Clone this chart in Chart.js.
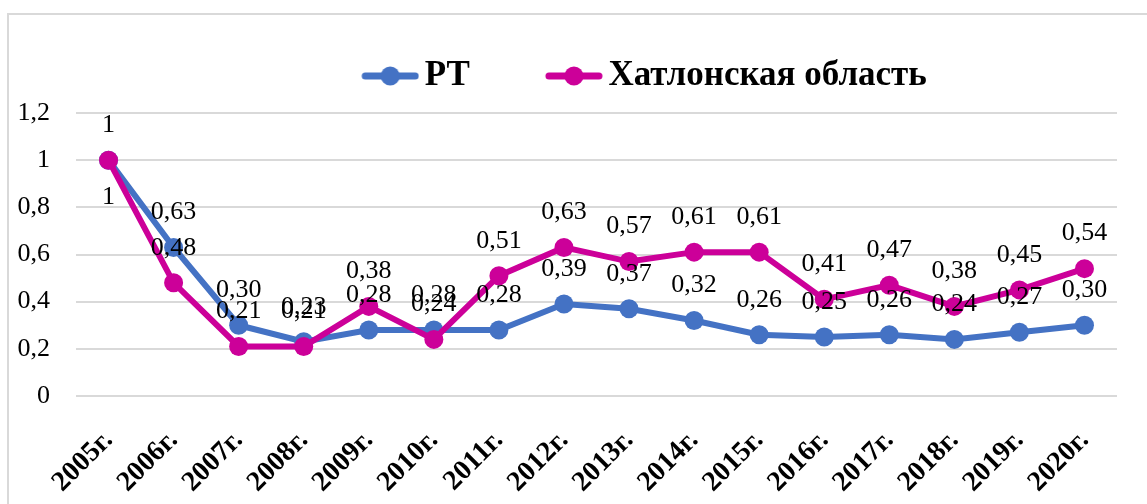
<!DOCTYPE html>
<html>
<head>
<meta charset="utf-8">
<script src="https://cdn.jsdelivr.net/npm/chart.js"></script>
<style>
  html, body { margin: 0; padding: 0; background: #fff; }
  #wrap { position: relative; width: 1147px; height: 504px; overflow: hidden; }
  #frame { position: absolute; left: 7px; top: 13px; width: 1200px; height: 600px; border: 2px solid #d9d9d9; }
  #chart { position: absolute; left: 0; top: 0; }
</style>
</head>
<body>
<div id="wrap">
  <div id="frame"></div>
  <canvas id="chart" width="1147" height="504"></canvas>
</div>
<script>
// Data
const years = ['2005г.', '2006г.', '2007г.', '2008г.', '2009г.', '2010г.', '2011г.', '2012г.',
               '2013г.', '2014г.', '2015г.', '2016г.', '2017г.', '2018г.', '2019г.', '2020г.'];
const rtValues = [1, 0.63, 0.30, 0.23, 0.28, 0.28, 0.28, 0.39, 0.37, 0.32, 0.26, 0.25, 0.26, 0.24, 0.27, 0.30];
const khatlonValues = [1, 0.48, 0.21, 0.21, 0.38, 0.24, 0.51, 0.63, 0.57, 0.61, 0.61, 0.41, 0.47, 0.38, 0.45, 0.54];
const yTickLabels = ['0', '0,2', '0,4', '0,6', '0,8', '1', '1,2'];

const SERIF = '"Liberation Serif", "Times New Roman", serif';
const BLUE = '#4472C4';
const MAGENTA = '#CC0099';

// Excel-style number: comma decimal, "1" stays "1"
function formatValue(v) {
    return v === 1 ? '1' : v.toFixed(2).replace('.', ',');
}

// Legend marker: short line with a dot in the middle
function legendMarker(color) {
    const c = document.createElement('canvas');
    c.width = 69;
    c.height = 24;
    const g = c.getContext('2d');
    g.strokeStyle = color;
    g.lineWidth = 7;
    g.lineCap = 'round';
    g.beginPath();
    g.moveTo(15, 12);
    g.lineTo(65, 12);
    g.stroke();
    g.fillStyle = color;
    g.beginPath();
    g.arc(40, 12, 9.5, 0, Math.PI * 2);
    g.fill();
    return c;
}
const markers = [legendMarker(BLUE), legendMarker(MAGENTA)];

// Value labels above the points (first blue one sits below)
const pointLabels = {
    id: 'pointLabels',
    afterDatasetsDraw(chart) {
        const ctx = chart.ctx;
        ctx.save();
        ctx.font = '26px ' + SERIF;
        ctx.fillStyle = '#000';
        ctx.textAlign = 'center';
        ctx.textBaseline = 'middle';
        chart.data.datasets.forEach((ds, i) => {
            const meta = chart.getDatasetMeta(i);
            meta.data.forEach((pt, j) => {
                const below = (ds.labelsBelow || []).includes(j);
                ctx.fillText(formatValue(ds.data[j]), pt.x, below ? pt.y + 37 : pt.y - 35);
            });
        });
        ctx.restore();
    }
};

// Legend sits a bit right of centre and high up in the reference
const legendShift = {
    id: 'legendShift',
    afterLayout(chart) {
        const l = chart.legend;
        l.left += 86;
        l.right += 86;
        l.top -= 17.5;
        l.bottom -= 17.5;
    }
};

new Chart(document.getElementById('chart'), {
    type: 'line',
    data: {
        labels: years,
        datasets: [
            {
                label: 'РТ',
                data: rtValues,
                borderColor: BLUE,
                backgroundColor: BLUE,
                borderWidth: 6,
                pointRadius: 9.5,
                pointBorderWidth: 0,
                pointBackgroundColor: BLUE,
                labelsBelow: [0],
                order: 2
            },
            {
                label: 'Хатлонская область',
                data: khatlonValues,
                borderColor: MAGENTA,
                backgroundColor: MAGENTA,
                borderWidth: 6,
                pointRadius: 9.5,
                pointBorderWidth: 0,
                pointBackgroundColor: MAGENTA,
                order: 1
            }
        ]
    },
    options: {
        responsive: false,
        animation: false,
        layout: { padding: { left: 0, right: 30, top: 0, bottom: 0 } },
        plugins: {
            tooltip: { enabled: false },
            legend: {
                position: 'top',
                maxHeight: 113,
                labels: {
                    color: '#000',
                    font: { family: SERIF, size: 35, weight: 'bold' },
                    usePointStyle: true,
                    pointStyleWidth: 45,
                    padding: 76,
                    generateLabels(chart) {
                        return chart.data.datasets.map((ds, i) => ({
                            text: ds.label,
                            pointStyle: markers[i],
                            fillStyle: ds.borderColor,
                            strokeStyle: ds.borderColor,
                            lineWidth: 0,
                            hidden: false,
                            datasetIndex: i,
                            fontColor: '#000'
                        }));
                    }
                }
            }
        },
        scales: {
            x: {
                offset: true,
                grid: { display: false },
                border: { display: false },
                ticks: {
                    color: '#000',
                    font: { family: SERIF, size: 28, weight: 'bold' },
                    minRotation: 45,
                    maxRotation: 45,
                    autoSkip: false,
                    padding: 20
                },
                afterFit(scale) { scale.height = 108; }
            },
            y: {
                min: 0,
                max: 1.2,
                border: { display: false },
                grid: { color: '#d9d9d9', lineWidth: 2, drawTicks: false },
                ticks: {
                    stepSize: 0.2,
                    padding: 26,
                    color: '#000',
                    font: { family: SERIF, size: 26 },
                    callback: (v, i) => yTickLabels[i]
                },
                afterFit(scale) { scale.width = 76; }
            }
        }
    },
    plugins: [pointLabels, legendShift]
});
</script>
</body>
</html>
